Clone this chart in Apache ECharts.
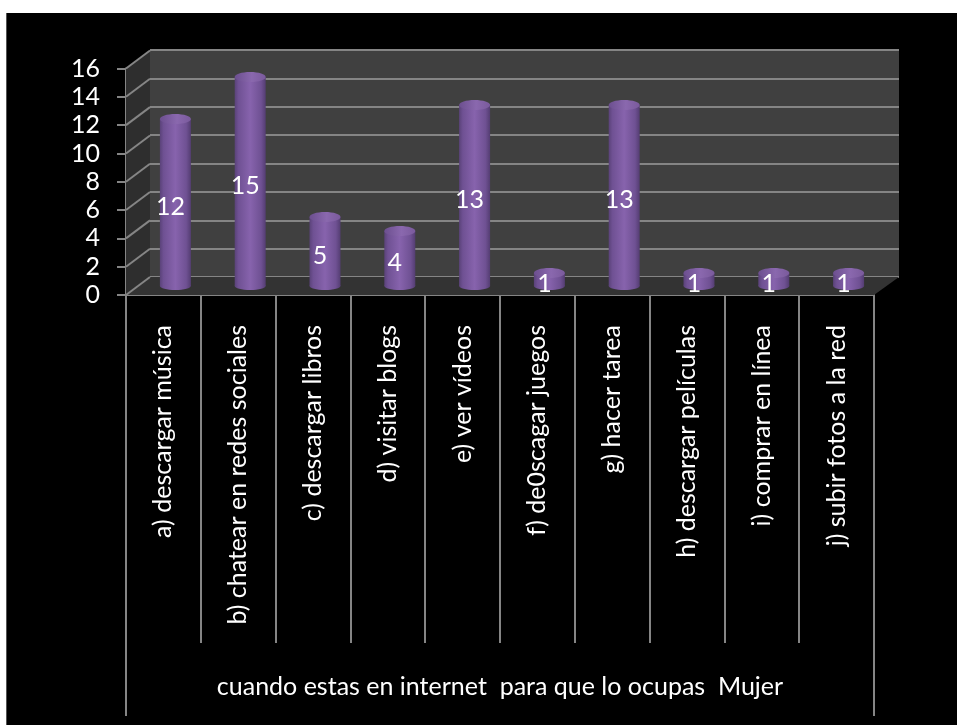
<!DOCTYPE html>
<html><head><meta charset="utf-8">
<style>
html,body{margin:0;padding:0;background:#fff;overflow:hidden}
#bg{position:absolute;left:6px;top:13px;right:0;bottom:0;width:951px;height:712px;background:#000;box-shadow:inset 1px 0 0 #555}
#c{position:absolute;left:0;top:0;width:957px;height:725px}
</style>
<script src="https://cdn.jsdelivr.net/npm/echarts@6/dist/echarts.min.js"></script>
</head><body><div id="bg"></div><div id="c"></div>
<script>
const categories = ["a) descargar música","b) chatear en redes sociales","c) descargar libros","d) visitar blogs","e) ver vídeos","f) de0scagar juegos","g) hacer tarea","h) descargar películas","i) comprar en línea","j) subir fotos a la red"];
const values = [12,15,5,4,13,1,13,1,1,1];
const yTicks = [0,2,4,6,8,10,12,14,16];
const axisTitle = "cuando estas en internet  para que lo ocupas  Mujer";
const GRAY = "#858585", FONT = "Lato";
const DX = 24, DY = -18;

function renderFrame(params, api){
  const v = api.value(0);
  const p = api.coord([0, v]);
  const left = p[0] - api.size([1,0])[0]/2;
  const right = left + api.size([1,0])[0]*categories.length;
  const kids = [];
  if (params.dataIndex === 0) {
    const topY = api.coord([0,16])[1];
    kids.push({type:'polygon',shape:{points:[[left,topY],[left+DX,topY+DY],[left+DX,p[1]+DY],[left,p[1]]]},style:{fill:'#2e2e2e'}});
    kids.push({type:'polygon',shape:{points:[[left,p[1]],[right,p[1]],[right+DX+1,p[1]+DY],[left+DX,p[1]+DY]]},style:{fill:'#333333'}});
    kids.push({type:'line',shape:{x1:left,y1:p[1],x2:left,y2:716},style:{stroke:GRAY,lineWidth:2}});
    kids.push({type:'line',shape:{x1:right,y1:p[1],x2:right,y2:716},style:{stroke:GRAY,lineWidth:2}});
  }
  kids.push({type:'line',shape:{x1:left,y1:p[1],x2:left+DX,y2:p[1]+DY},style:{stroke:GRAY,lineWidth:2}});
  return {type:'group',children:kids};
}

function renderBar(params, api){
  const top = api.coord([api.value(0), api.value(1)]);
  const base = api.coord([api.value(0), 0]);
  const cx = top[0], y0 = base[1]-1, y1 = top[1], rx = 15.5;
  const side = {type:'linear',x:0,y:0,x2:1,y2:0,colorStops:[
    {offset:0,color:'#5a4279'},{offset:0.12,color:'#6f5193'},{offset:0.5,color:'#8763ad'},{offset:0.85,color:'#6f5193'},{offset:1,color:'#543d72'}]};
  const cap = {type:'linear',x:0,y:0,x2:1,y2:0,colorStops:[
    {offset:0,color:'#6c4f8f'},{offset:0.55,color:'#8a68ae'},{offset:1,color:'#7a5a9c'}]};
  return {type:'group',children:[
    {type:'ellipse',shape:{cx:cx+6,cy:y0-1,rx:34,ry:5},style:{fill:{type:'radial',x:0.5,y:0.5,r:0.5,colorStops:[{offset:0,color:'rgba(10,10,10,0.95)'},{offset:0.6,color:'rgba(15,15,15,0.75)'},{offset:1,color:'rgba(20,20,20,0)'}]}}},
    {type:'ellipse',shape:{cx:cx,cy:y0,rx:rx,ry:4},style:{fill:side}},
    {type:'rect',shape:{x:cx-rx,y:y1,width:rx*2,height:y0-y1},style:{fill:side}},
    {type:'ellipse',shape:{cx:cx,cy:y1,rx:rx,ry:5},style:{fill:cap}},
    {type:'text',style:{x:cx-5,y:(y0+y1)/2+4,text:String(api.value(1)),fill:'#fff',font:"25px "+FONT,align:'center',verticalAlign:'middle'}}
  ]};
}

const chart = echarts.init(document.getElementById('c'),null,{renderer:'canvas'});
chart.setOption({
  animation:false,
  backgroundColor:'transparent',
  grid:[
    {left:126,width:748,top:68.5,height:226.5,containLabel:false},
    {left:150,width:749,top:50,height:227,show:true,backgroundColor:'#404040',borderWidth:0},
    {left:138,width:748,top:63,height:224}
  ],
  xAxis:[
    {gridIndex:0,type:'category',data:categories,boundaryGap:true,
     axisLine:{lineStyle:{color:GRAY,width:2}},
     axisTick:{show:true,length:348,alignWithLabel:false,lineStyle:{color:GRAY,width:2}},
     axisLabel:{interval:0,rotate:90,margin:30,color:'#fff',fontFamily:FONT,fontSize:25},
     name:axisTitle,nameLocation:'middle',nameGap:392,
     nameTextStyle:{color:'#fff',fontFamily:FONT,fontSize:25,align:'center',verticalAlign:'middle'}},
    {gridIndex:1,type:'category',data:categories,show:false},
    {gridIndex:2,type:'category',data:categories,show:false}
  ],
  yAxis:[
    {gridIndex:0,type:'value',min:0,max:16,interval:2,
     axisLine:{show:true,lineStyle:{color:GRAY,width:2}},
     axisTick:{show:true,length:9,lineStyle:{color:GRAY,width:2}},
     axisLabel:{margin:26,color:'#fff',fontFamily:FONT,fontSize:25,padding:[5,0,0,0]},
     splitLine:{show:false}},
    {gridIndex:1,type:'value',min:0,max:16,interval:2,
     axisLine:{show:false},axisTick:{show:false},axisLabel:{show:false},
     splitLine:{show:true,lineStyle:{color:GRAY,width:2}}},
    {gridIndex:2,type:'value',min:0,max:16,interval:2,show:false,splitLine:{show:false}}
  ],
  series:[
    {type:'custom',xAxisIndex:0,yAxisIndex:0,z:1,silent:true,clip:false,renderItem:renderFrame,data:yTicks.map(v=>[v]),encode:{y:0}},
    {type:'custom',xAxisIndex:2,yAxisIndex:2,z:5,clip:false,renderItem:renderBar,data:values.map((v,i)=>[i,v]),encode:{x:0,y:1}}
  ]
});
</script></body></html>
